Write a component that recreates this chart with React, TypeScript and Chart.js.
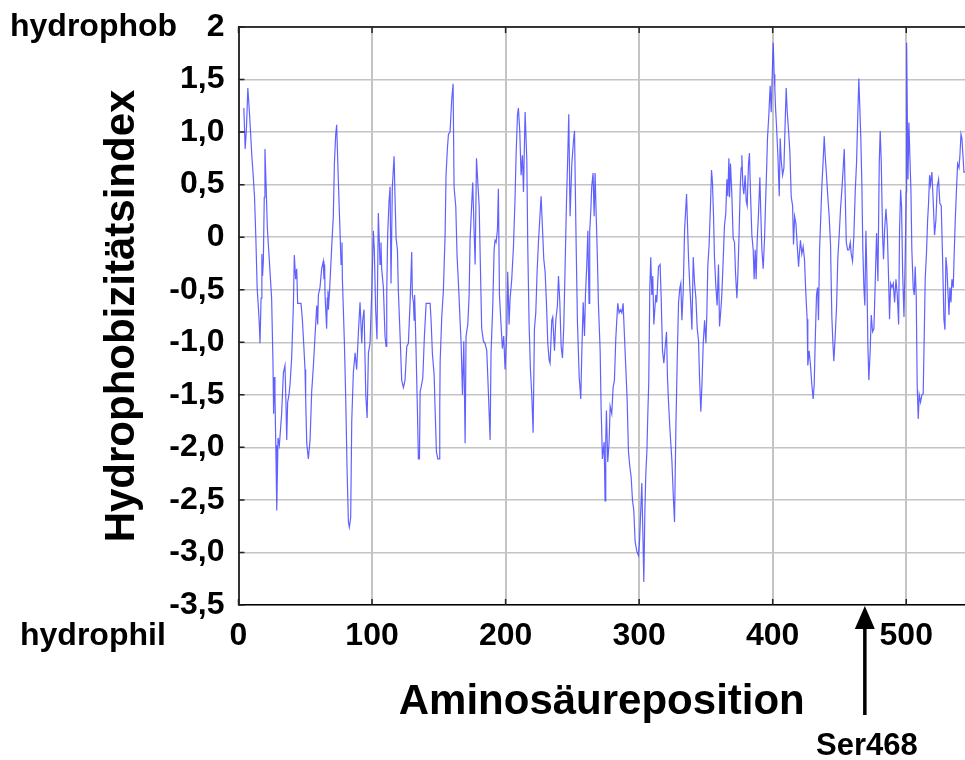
import React, { useEffect, useRef } from 'react';
import { Chart, registerables } from 'chart.js';

Chart.register(...registerables);

// [amino acid position, hydrophobicity index], segment by segment
const SEG_0_52: [number, number][] = [
  [4, 1.23], [5, 0.84], [6, 1.05], [7, 1.42], [8.5, 1.12], [10, 0.77], [11, 0.59], [12, 0.38], [13, -0.01], [14, -0.49],
  [15, -0.69], [15.6, -0.83], [16.1, -1.01], [16.9, -0.58], [17.5, -0.16], [18, -0.37], [18.6, -0.23], [19.3, 0.38], [19.8, 0.84], [20.6, 0.52],
  [21.6, 0.09], [22.6, -0.12], [23.6, -0.33], [24.8, -0.58], [25.8, -1.18], [26.3, -1.68], [26.8, -1.33], [27.3, -1.5], [28.1, -2.12], [28.5, -1.98],
  [28.8, -2.6], [29.6, -1.91], [30.6, -1.98], [32.3, -1.68], [33.6, -1.29], [34.8, -1.22], [35.5, -1.56], [36.1, -1.93], [36.8, -1.57], [37.8, -1.5],
  [38.6, -1.4], [39.8, -1.15], [41.1, -0.65], [41.8, -0.17], [42.8, -0.4], [43.6, -0.3], [44.3, -0.63], [46.8, -0.63], [47.8, -0.78], [49.1, -1.08],
  [49.8, -1.26], [50.3, -1.54], [51.1, -1.96], [52.3, -2.11],
];
const SEG_53_105: [number, number][] = [
  [53.6, -1.93], [54.8, -1.47], [56.1, -1.22], [57.3, -0.94], [58.6, -0.65], [59.3, -0.83], [59.8, -0.55], [61, -0.48], [62.3, -0.3], [63.5, -0.23],
  [64, -0.4], [64.5, -0.26], [64.8, -0.55], [66, -0.87], [66.5, -0.58], [67, -0.51], [67.3, -0.69], [68.2, -0.51], [69.8, -0.09], [71, 0.2],
  [71.8, 0.7], [72.8, 0.98], [73.5, 1.07], [74.8, 0.52], [76, 0.06], [76.8, -0.26], [77.5, -0.05], [77.8, -0.4], [79.3, -1.01], [80.3, -1.54],
  [81.3, -2.21], [82.3, -2.71], [83, -2.76], [84, -2.67], [84.8, -1.75], [86, -1.29], [87.3, -1.1], [88.5, -1.26], [89.8, -0.9], [91, -0.62],
  [92.3, -1.01], [93, -0.79], [94, -0.69], [95.3, -1.5], [96.3, -1.72], [97.3, -1.1], [98.5, -1.01], [99.8, -0.51], [101, 0.06], [101.7, -0.12],
  [102.7, -0.69], [103.7, -0.97], [104.7, 0.23],
];
const SEG_106_157: [number, number][] = [
  [106, -0.26], [106.7, -0.05], [107.2, -0.3], [108.5, -0.48], [109.7, -0.94], [110.5, -1.04], [111, -0.53], [111.7, 0.02], [112.7, 0.34], [113.5, 0.48],
  [114.2, -0.44], [115.2, 0.48], [116.5, 0.77], [117.2, 0.38], [118, -0.01], [119, -0.12], [119.7, -0.51], [121, -0.94], [122.2, -1.36], [123.5, -1.43],
  [124.7, -1.36], [126, -1.04], [127.2, -1.01], [128.5, -0.62], [129.7, -0.14], [130.2, -0.55], [131, -0.62], [131.5, -0.79], [131.9, -0.55], [132.7, -0.94],
  [134, -1.66], [134.7, -2.11], [135.5, -2.11], [136, -1.47], [136.7, -1.43], [138, -1.34], [139.2, -0.94], [140.5, -0.63], [143.5, -0.63], [144.2, -0.79],
  [145.2, -1.11], [146.5, -1.31], [147.2, -1.63], [148.2, -2.04], [149.2, -2.11], [150.2, -2.11], [150.7, -1.61], [151, -1.18], [152.2, -0.76], [153.4, -0.51],
  [154.7, 0.02], [155.4, 0.59], [156.4, 0.84], [157.2, 0.98],
];
const SEG_158_209: [number, number][] = [
  [158.4, 1.0], [159.7, 1.32], [160.7, 1.46], [161.4, 0.48], [162.7, 0.29], [163.7, -0.19], [164.7, -0.44], [165.9, -0.79], [166.7, -1.01], [167.7, -1.5],
  [168.7, -0.99], [169.7, -1.96], [170.4, -0.94], [171.7, -0.83], [172.7, -0.55], [173.4, -0.03], [174.7, 0.34], [175.4, 0.52], [176.4, 0.06], [177.2, -0.26],
  [178.2, 0.75], [179.2, 0.52], [180.2, 0.3], [181.1, -0.26], [182.1, -0.87], [183.4, -0.99], [184.6, -1.01], [185.9, -1.08], [187.1, -1.47], [188.4, -1.93],
  [189.1, -1.1], [190.4, -0.65], [191.4, -0.12], [192.1, -0.03], [192.9, -0.05], [193.9, 0.07], [194.6, 0.46], [195.4, -0.55], [196.4, -0.79], [197.6, -1.06],
  [198.6, -0.94], [199.6, -1.26], [200.9, -0.9], [201.6, -0.33], [202.6, -0.83], [203.4, -0.58], [204.6, -0.4], [205.9, -0.09], [207.1, 0.38], [207.9, 0.8],
  [208.9, 1.16], [209.6, 1.23],
];
const SEG_210_262: [number, number][] = [
  [210.6, 1.01], [211.6, 0.59], [212.6, 0.78], [213.4, 0.43], [214.6, 1.19], [215.9, 0.73], [216.6, -0.09], [217.6, -0.83], [218.6, -1.26], [219.6, -1.5],
  [220.6, -1.86], [221.6, -0.87], [222.6, -0.72], [223.6, -0.33], [224.6, -0.05], [225.8, 0.22], [226.6, 0.39], [227.6, 0.09], [228.6, -0.21], [229.6, -0.33],
  [230.6, -0.63], [231.6, -1.01], [232.6, -1.17], [233.3, -1.2], [234.6, -0.79], [235.3, -0.76], [236.6, -1.08], [237.6, -0.79], [238.8, -0.65], [239.6, -0.37],
  [240.6, -0.62], [241.6, -1.04], [242.6, -1.15], [243.6, -0.83], [244.6, -0.26], [245.6, 0.34], [246.6, 0.8], [247.3, 1.17], [248.3, 0.2], [249.6, 0.7],
  [250.8, 0.91], [251.6, 1.01], [252.8, -0.05], [253.8, -0.81], [255.1, -1.33], [256.3, -1.54], [257.1, -1.08], [258.1, -0.62], [259.1, -0.94], [259.8, -0.55],
  [260.8, -0.26], [261.6, 0.06], [262.5, -0.63],
];
const SEG_263_314: [number, number][] = [
  [263, 0.06], [263.8, 0.25], [264.5, 0.48], [265.5, 0.61], [266.3, 0.2], [267, 0.61], [267.8, 0.23], [268.8, -0.23], [269.5, -0.63], [270.8, -1.08],
  [271.5, -1.61], [272.5, -2.11], [273.8, -1.95], [274.5, -2.51], [275, -1.93], [275.5, -1.65], [276.5, -2.14], [277.5, -1.95], [278.3, -1.61], [279.5, -1.68],
  [280.5, -1.43], [281.5, -1.36], [282.5, -0.97], [283.3, -0.78], [284, -0.63], [285, -0.72], [286, -0.69], [287, -0.72], [288, -0.63], [289, -0.94],
  [290, -1.24], [291, -1.54], [292, -2.04], [293, -2.18], [294, -2.28], [295, -2.5], [296, -2.6], [297, -2.9], [298.3, -2.99], [299.5, -3.03],
  [300.3, -2.89], [301.3, -2.57], [302, -2.34], [302.8, -2.82], [303.5, -3.28], [304.3, -2.6], [305, -2.25], [305.8, -2.04], [306.5, -1.68], [307.2, -1.38],
  [308, -0.48], [308.7, -0.19], [309.5, -0.55], [310.2, -0.37], [311, -0.83], [311.7, -0.69], [312.5, -0.55], [313.2, -0.62], [314.5, -0.28],
];
const SEG_315_367: [number, number][] = [
  [315.7, -0.26], [316.5, -0.58], [317.5, -1.08], [318.5, -1.2], [319.5, -1.04], [320.5, -0.9], [321.2, -1.33], [322, -1.57], [323.2, -1.86], [324.5, -2.12],
  [325.7, -2.5], [326.5, -2.71], [327.5, -1.82], [328.5, -1.18], [329.5, -0.62], [330.5, -0.48], [331.2, -0.44], [332, -0.79], [333, -0.51], [334, 0.06],
  [335.5, 0.41], [337, -0.21], [338, -0.48], [338.7, -0.65], [339.5, -0.88], [340.5, -0.19], [341.5, -0.44], [342.5, -0.58], [343.5, -0.87], [344.5, -0.99],
  [345.2, -1.33], [346.2, -1.66], [347, -1.41], [348, -1.01], [349, -0.79], [350, -1.01], [350.7, -0.72], [351.4, -0.28], [352.4, -0.07], [353.4, 0.3],
  [354.2, 0.64], [354.9, 0.52], [355.7, 0.2], [356.4, -0.19], [357.4, -0.46], [358.4, -0.65], [359.4, -0.26], [360.2, -0.85], [361.2, -0.69], [361.9, -0.55],
  [362.9, -0.23], [363.9, 0.11], [364.9, 0.23], [365.7, 0.55], [366.4, 0.39], [367.2, 0.75],
];
const SEG_368_419: [number, number][] = [
  [367.7, 0.38], [368.4, 0.7], [369.4, 0.41], [370.4, -0.01], [371.4, -0.05], [372.2, -0.35], [373.2, -0.58], [373.9, -0.37], [374.9, 0.06], [375.7, 0.48],
  [376.4, 0.66], [376.9, 0.78], [377.7, 0.48], [378.4, 0.41], [379.4, 0.59], [380.2, 0.34], [380.9, 0.3], [381.9, 0.7], [382.6, 0.8], [383.4, 0.41],
  [384.4, 0.02], [385.4, -0.12], [386.1, -0.4], [386.9, -0.12], [387.6, -0.4], [388.4, -0.03], [389.4, 0.23], [390.4, 0.57], [391.1, 0.23], [391.9, -0.12],
  [392.9, -0.3], [393.9, -0.01], [394.6, 0.3], [395.4, 0.62], [396.1, 0.94], [397.1, 1.16], [398.1, 1.44], [398.9, 1.19], [399.9, 1.65], [400.4, 1.85],
  [401.1, 1.55], [401.6, 1.42], [402.1, 1.24], [402.9, 1.05], [403.9, 0.77], [404.9, 0.39], [405.6, 0.94], [406.4, 0.73], [407.4, 0.59], [408.4, 0.66],
  [409.4, 1.12], [410.1, 1.42], [410.9, 1.19], [411.9, 1.01], [412.9, 0.8], [413.9, 0.38], [414.9, 0.3], [415.6, -0.07], [416.4, 0.2], [417.4, 0.13],
  [418.4, -0.09], [419.4, -0.28],
];
const SEG_420_472: [number, number][] = [
  [420, -0.16], [420.8, -0.03], [421.8, -0.16], [422.8, -0.09], [423.8, -0.21], [424.8, -0.53], [425.8, -0.78], [426.3, -1.22], [427.3, -1.08], [428.3, -1.22],
  [429.3, -1.4], [430.3, -1.54], [431.1, -1.4], [431.8, -1.01], [432.8, -0.55], [433.6, -0.48], [434.3, -0.79], [435.1, -0.12], [436.1, 0.23], [436.8, 0.48],
  [437.8, 0.73], [438.6, 0.96], [439.3, 0.78], [440.3, 0.59], [441.3, 0.38], [442.3, 0.2], [443.3, -0.07], [444.3, -0.76], [445.1, -1.01], [445.8, -1.18],
  [446.8, -0.94], [447.8, -0.67], [448.8, -0.19], [449.8, 0.02], [450.8, 0.27], [451.8, 0.45], [452.8, 0.66], [453.6, 0.84], [454.3, 0.41], [455.1, -0.05],
  [456.1, -0.12], [457.1, -0.12], [458.1, -0.05], [458.8, -0.16], [459.8, -0.23], [460.8, 0.02], [461.8, 0.43], [462.8, 0.71], [463.8, 1.19], [464.5, 1.51],
  [465.3, 1.21], [466, 0.94], [466.8, 0.48], [467.5, -0.12], [468.3, -0.48], [469, -0.65], [469.8, 0.06], [470.5, -0.35], [471.3, -1.04], [472, -1.36],
];
const SEG_473_544: [number, number][] = [
  [473, -1.08], [473.8, -0.74], [474.8, -0.9], [475.8, -0.87], [476.8, -0.42], [477.8, 0.04], [478.8, -0.42], [479.8, 0.71], [480.5, 1.01], [481.3, 0.71],
  [482.3, 0.02], [483, -0.21], [483.8, 0.07], [484.8, 0.27], [485.8, 0.07], [486.8, -0.4], [487.5, -0.78], [488.3, -0.44], [489.3, -0.48], [490.3, -0.44],
  [491.3, -0.62], [492.3, -0.4], [493.3, -0.55], [494.3, -0.83], [495, 0.07], [495.8, 0.45], [496.5, 0.29], [497.3, -0.33], [498.3, -0.76], [499.3, -0.14],
  [500, 0.43], [500.3, 1.85], [501.3, 0.55], [502, 1.09], [502.7, 0.78], [503.5, 0.45], [504.2, -0.12], [505.2, -0.48], [506, -0.55], [506.7, -0.28],
  [507.5, -0.58], [508.2, -1.41], [509, -1.73], [509.7, -1.5], [510.7, -1.57], [511.7, -1.5], [512.7, -1.49], [513.5, -0.92], [514.2, -0.4], [515.2, -0.14],
  [516, 0.16], [516.7, 0.32], [517.5, 0.59], [518.2, 0.5], [519.2, 0.62], [520.2, 0.34], [521.2, 0.02], [522.2, 0.16], [523.2, 0.48], [524.2, 0.55],
  [525.2, 0.32], [526.2, 0.3], [527.2, -0.19], [528.2, -0.78], [529, -0.88], [529.7, -0.19], [530.5, -0.3], [531.2, -0.51], [532, -0.74], [532.7, -0.48],
  [533.5, -0.62], [534.2, -0.4], [535.2, -0.48], [536, -0.12], [536.7, 0.16], [537.7, 0.48], [538.5, 0.7], [539.5, 0.66], [540.2, 0.78], [541, 0.98],
  [541.7, 0.94], [542.5, 0.77], [543.2, 0.62], [544, 0.62],
];

const SEGMENTS = [
  SEG_0_52, SEG_53_105, SEG_106_157, SEG_158_209, SEG_210_262,
  SEG_263_314, SEG_315_367, SEG_368_419, SEG_420_472, SEG_473_544,
];

const Y_TICK_VALUES = [2, 1.5, 1, 0.5, 0, -0.5, -1, -1.5, -2, -2.5, -3, -3.5];
const Y_TICK_LABELS = ['2', '1,5', '1,0', '0,5', '0', '-0,5', '-1,0', '-1,5', '-2,0', '-2,5', '-3,0', '-3,5'];
const X_TICK_VALUES = [0, 100, 200, 300, 400, 500];
const X_TICK_LABELS = ['0', '100', '200', '300', '400', '500'];
const X_MIN = 0;
const X_MAX = 544;
const Y_MIN = -3.5;
const Y_MAX = 2;

const X_TITLE = 'Aminosäureposition';
const Y_TITLE = 'Hydrophobizitätsindex';
const TOP_LABEL = 'hydrophob';
const BOTTOM_LABEL = 'hydrophil';
const MARKER_POSITION = 469;
const MARKER_LABEL = 'Ser468';

const FONT_FAMILY = '"Liberation Sans", Arial, Helvetica, sans-serif';
const TICK_FONT_SIZE = 32;
const TITLE_FONT_SIZE = 42;
const X_TICK_PAD = 12;

const annotationPlugin = {
  id: 'hydroAnnotations',
  afterDraw(chart: any) {
    const { ctx, chartArea: ca, scales } = chart;
    const xs = scales.x;
    const ys = scales.y;
    ctx.save();

    // top frame line
    ctx.strokeStyle = '#000';
    ctx.lineWidth = 1.5;
    ctx.beginPath();
    ctx.moveTo(ca.left, ca.top);
    ctx.lineTo(ca.right, ca.top);
    ctx.stroke();

    // inner tick marks
    ctx.strokeStyle = '#222';
    ctx.lineWidth = 1.5;
    ctx.beginPath();
    for (const v of Y_TICK_VALUES) {
      const py = ys.getPixelForValue(v);
      ctx.moveTo(ca.left, py);
      ctx.lineTo(ca.left + 6, py);
    }
    for (const v of X_TICK_VALUES) {
      const px = xs.getPixelForValue(v);
      ctx.moveTo(px, ca.bottom);
      ctx.lineTo(px, ca.bottom - 6);
      ctx.moveTo(px, ca.top);
      ctx.lineTo(px, ca.top + 6);
    }
    ctx.stroke();

    // side labels
    ctx.fillStyle = '#000';
    ctx.font = `bold ${TICK_FONT_SIZE}px ${FONT_FAMILY}`;
    ctx.textBaseline = 'middle';
    ctx.textAlign = 'left';
    ctx.fillText(TOP_LABEL, 10, ys.getPixelForValue(Y_MAX));
    ctx.fillText(BOTTOM_LABEL, 20, ca.bottom + X_TICK_PAD + (TICK_FONT_SIZE * 1.2) / 2);

    // marker arrow
    const ax = xs.getPixelForValue(MARKER_POSITION);
    const tipY = ca.bottom + 1;
    const baseY = ca.bottom + 24;
    ctx.beginPath();
    ctx.moveTo(ax, tipY);
    ctx.lineTo(ax - 10, baseY);
    ctx.lineTo(ax + 10, baseY);
    ctx.closePath();
    ctx.fill();
    ctx.fillRect(ax - 1.75, baseY - 1, 3.5, 716 - baseY);

    ctx.font = `bold 31px ${FONT_FAMILY}`;
    ctx.textAlign = 'center';
    ctx.fillText(MARKER_LABEL, ax + 2, 746);

    ctx.restore();
  },
};

export default function App() {
  const canvasRef = useRef<HTMLCanvasElement | null>(null);

  useEffect(() => {
    document.body.style.margin = '0';
    const canvas = canvasRef.current;
    if (!canvas) return;

    const points = SEGMENTS.flat().map(([x, y]) => ({ x, y }));

    const chart = new Chart(canvas, {
      type: 'line',
      data: {
        datasets: [
          {
            data: points,
            borderColor: 'rgba(75, 75, 255, 0.88)',
            borderWidth: 1.2,
            pointRadius: 0,
            tension: 0,
            fill: false,
          },
        ],
      },
      options: {
        animation: false,
        responsive: false,
        devicePixelRatio: 1,
        layout: { padding: { top: 27, left: 0, right: 0, bottom: 0 } },
        plugins: {
          legend: { display: false },
          tooltip: { enabled: false },
        },
        scales: {
          x: {
            type: 'linear',
            min: X_MIN,
            max: X_MAX,
            afterBuildTicks: (scale: any) => {
              scale.ticks = X_TICK_VALUES.map((value) => ({ value }));
            },
            afterFit: (scale: any) => {
              scale.height = 155;
              scale.paddingLeft = 0;
              scale.paddingRight = 0;
            },
            ticks: {
              color: '#000',
              padding: X_TICK_PAD,
              font: { family: FONT_FAMILY, size: TICK_FONT_SIZE, weight: 'bold' },
              maxRotation: 0,
              callback: (value: any) => {
                const i = X_TICK_VALUES.indexOf(Number(value));
                return i >= 0 ? X_TICK_LABELS[i] : '';
              },
            },
            grid: { color: '#c4c4c4', lineWidth: 2, drawTicks: false },
            border: { display: true, color: '#000', width: 1.5 },
            title: {
              display: true,
              text: X_TITLE,
              color: '#000',
              font: { family: FONT_FAMILY, size: TITLE_FONT_SIZE, weight: 'bold' },
              padding: { top: 0, bottom: 32 },
            },
          },
          y: {
            type: 'linear',
            min: Y_MIN,
            max: Y_MAX,
            afterBuildTicks: (scale: any) => {
              scale.ticks = Y_TICK_VALUES.map((value) => ({ value }));
            },
            afterFit: (scale: any) => {
              scale.width = 238.5;
              scale.paddingTop = 0;
              scale.paddingBottom = 0;
            },
            ticks: {
              color: '#000',
              padding: 14,
              font: { family: FONT_FAMILY, size: TICK_FONT_SIZE, weight: 'bold' },
              callback: (value: any) => {
                const i = Y_TICK_VALUES.findIndex((v) => Math.abs(v - Number(value)) < 1e-6);
                return i >= 0 ? Y_TICK_LABELS[i] : '';
              },
            },
            grid: { color: '#c4c4c4', lineWidth: 1.5, drawTicks: false },
            border: { display: true, color: '#333', width: 2 },
            title: {
              display: true,
              text: Y_TITLE,
              color: '#000',
              font: { family: FONT_FAMILY, size: TITLE_FONT_SIZE, weight: 'bold' },
              padding: { top: 97, bottom: 0 },
            },
          },
        },
      },
      plugins: [annotationPlugin],
    } as any);

    return () => {
      chart.destroy();
    };
  }, []);

  return (
    <div style={{ width: 965, height: 760 }}>
      <canvas ref={canvasRef} width={965} height={760} style={{ display: 'block' }} />
    </div>
  );
}
